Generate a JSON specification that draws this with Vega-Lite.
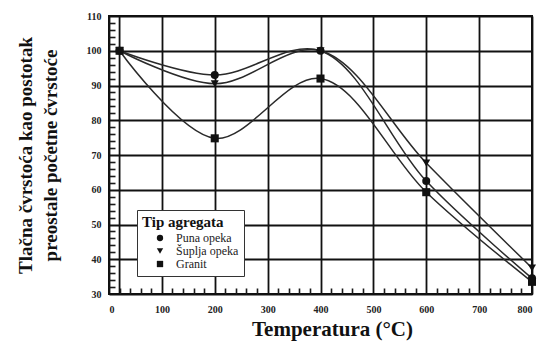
{
  "$schema": "https://vega.github.io/schema/vega-lite/v6.json",
  "width": 423,
  "height": 278,
  "autosize": {"type": "none"},
  "padding": {"left": 109, "top": 16, "right": 5, "bottom": 50},
  "background": "white",
  "config": {
    "view": {"stroke": "#111", "strokeWidth": 2},
    "font": "Liberation Serif"
  },
  "datasets": {
    "main": [
      {"temp": 20, "val": 100, "tip": "Puna opeka"},
      {"temp": 200, "val": 93, "tip": "Puna opeka"},
      {"temp": 400, "val": 100, "tip": "Puna opeka"},
      {"temp": 600, "val": 62.5, "tip": "Puna opeka"},
      {"temp": 800, "val": 34.5, "tip": "Puna opeka"},
      {"temp": 20, "val": 100, "tip": "Šuplja opeka"},
      {"temp": 200, "val": 90.5, "tip": "Šuplja opeka"},
      {"temp": 400, "val": 100, "tip": "Šuplja opeka"},
      {"temp": 600, "val": 67.7, "tip": "Šuplja opeka"},
      {"temp": 800, "val": 37.5, "tip": "Šuplja opeka"},
      {"temp": 20, "val": 100, "tip": "Granit"},
      {"temp": 200, "val": 74.8, "tip": "Granit"},
      {"temp": 400, "val": 92, "tip": "Granit"},
      {"temp": 600, "val": 59.3, "tip": "Granit"},
      {"temp": 800, "val": 33.5, "tip": "Granit"}
    ],
    "frame": [
      {"temp": 20, "val": 30},
      {"temp": 20, "val": 110}
    ]
  },
  "resolve": {"axis": {"x": "independent", "y": "independent"}},
  "layer": [
    {
      "data": {"name": "frame"},
      "mark": {"type": "line", "color": "#111", "strokeWidth": 1.8},
      "encoding": {
        "x": {
          "field": "temp", "type": "quantitative",
          "scale": {"domain": [0, 800], "nice": false},
          "axis": {
            "orient": "bottom", "offset": -6, "zindex": 2,
            "values": [20,40,60,80,120,140,160,180,220,240,260,280,320,340,360,380,420,440,460,480,520,540,560,580,620,640,660,680,720,740,760,780],
            "labels": false, "grid": false, "domain": false, "title": null,
            "ticks": true, "tickSize": 6, "tickColor": "#1a1a1a", "tickWidth": 1.6, "tickOpacity": 1
          }
        },
        "y": {
          "field": "val", "type": "quantitative",
          "scale": {"domain": [30, 110], "nice": false},
          "axis": {
            "orient": "left", "offset": -6, "zindex": 2,
            "values": [32,34,36,38,42,44,46,48,52,54,56,58,62,64,66,68,72,74,76,78,82,84,86,88,92,94,96,98,102,104,106,108],
            "labels": false, "grid": false, "domain": false, "title": null,
            "ticks": true, "tickSize": 6, "tickColor": "#1a1a1a", "tickWidth": 1.6, "tickOpacity": 1
          }
        }
      }
    },
    {
      "data": {"name": "main"},
      "mark": {"type": "line", "interpolate": "catmull-rom", "color": "#2a2a2a", "strokeWidth": 1.5},
      "encoding": {
        "x": {
          "field": "temp", "type": "quantitative",
          "scale": {"domain": [0, 800], "nice": false},
          "axis": {
            "orient": "bottom",
            "values": [0,100,200,300,400,500,600,700,800],
            "grid": true, "gridColor": "#111", "gridWidth": 1.8, "gridOpacity": 1,
            "ticks": false, "domain": false,
            "labelFont": "Liberation Serif", "labelFontSize": 10, "labelFontWeight": "bold", "labelColor": "#222",
            "labelPadding": 10,
            "title": "Temperatura (°C)", "titleFont": "Liberation Serif", "titleFontSize": 21,
            "titleFontWeight": "bold", "titleColor": "#111", "titlePadding": 4, "titleX": 223
          }
        },
        "y": {
          "field": "val", "type": "quantitative",
          "scale": {"domain": [30, 110], "nice": false},
          "axis": {
            "orient": "left",
            "values": [30,40,50,60,70,80,90,100,110],
            "grid": true, "gridColor": "#111", "gridWidth": 1.8, "gridOpacity": 1,
            "ticks": false, "domain": false,
            "labelFont": "Liberation Serif", "labelFontSize": 10, "labelFontWeight": "bold", "labelColor": "#222",
            "labelPadding": 8,
            "title": ["Tlačna čvrstoća kao postotak", "preostale početne čvrstoće"],
            "titleFont": "Liberation Serif", "titleFontSize": 19, "titleFontWeight": "bold",
            "titleColor": "#111", "titlePadding": 26, "titleLineHeight": 25
          }
        },
        "detail": {"field": "tip"}
      }
    },
    {
      "data": {"name": "main"},
      "mark": {"type": "point", "filled": true, "color": "#111", "opacity": 1, "size": 65},
      "encoding": {
        "x": {"field": "temp", "type": "quantitative", "scale": {"domain": [0, 800], "nice": false}, "axis": null},
        "y": {"field": "val", "type": "quantitative", "scale": {"domain": [30, 110], "nice": false}, "axis": null},
        "shape": {
          "field": "tip", "type": "nominal",
          "scale": {"domain": ["Puna opeka", "Šuplja opeka", "Granit"], "range": ["circle", "triangle-down", "square"]},
          "legend": {
            "orient": "none", "legendX": 28, "legendY": 194,
            "title": "Tip agregata",
            "titleFont": "Liberation Serif", "titleFontSize": 15, "titleFontWeight": "bold", "titleColor": "#111",
            "labelFont": "Liberation Serif", "labelFontSize": 12, "labelColor": "#222",
            "symbolFillColor": "#111", "symbolStrokeColor": "#111", "symbolSize": 40,
            "strokeColor": "#333", "fillColor": "white", "padding": 5,
            "rowPadding": 0, "labelOffset": 10, "symbolOffset": 12,
            "titlePadding": 2
          }
        }
      }
    }
  ]
}
